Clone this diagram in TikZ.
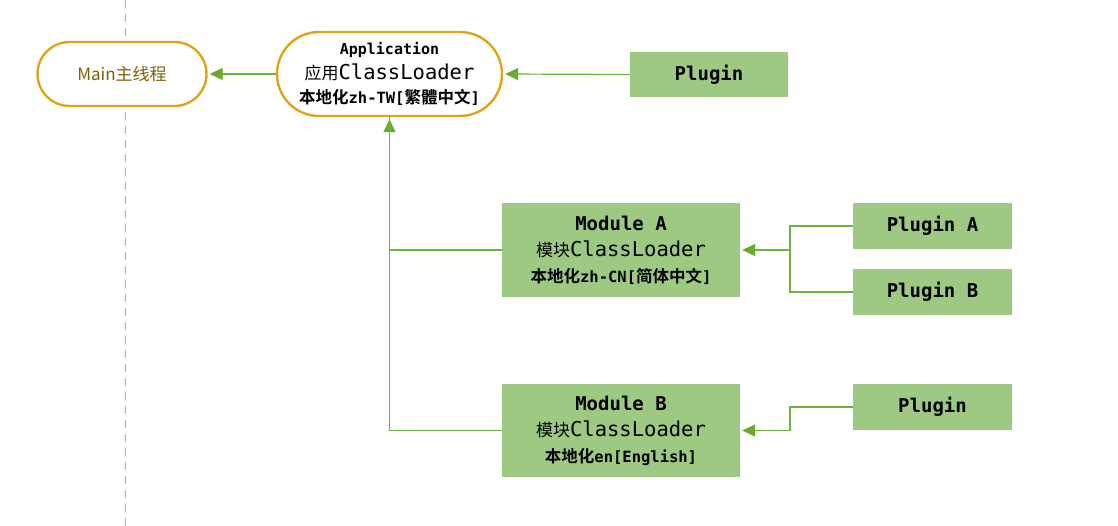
\documentclass[tikz,border=0pt]{standalone}
\usepackage{fontspec}
\setmainfont{DejaVu Sans Mono}
\setmonofont{DejaVu Sans Mono}
\newfontfamily\cjk[BoldFont={Noto Sans CJK SC Bold}]{Noto Sans CJK SC}
\usetikzlibrary{arrows.meta}
\definecolor{gfill}{HTML}{9DC983}
\definecolor{gline}{HTML}{70B040}
\definecolor{garrow}{HTML}{6AAB2E}
\definecolor{obord}{HTML}{E0A418}
\definecolor{mtext}{HTML}{7F6000}
\tikzset{
  stadium/.style={draw=obord, line width=2.4pt, fill=white, inner sep=0pt, align=center},
  gbox/.style={fill=gfill, draw=none, inner sep=0pt, align=center},
  conn/.style={draw=gline, line width=1.2pt, -{Triangle[length=13pt,width=12pt,color=garrow]}, shorten >=2pt},
  plain/.style={draw=gline, line width=1.2pt},
  ttlfont/.style={font=\fontsize{19pt}{22pt}\selectfont\bfseries},
  appfont/.style={font=\fontsize{16pt}{24.5pt}\selectfont},
  modfont/.style={font=\fontsize{16pt}{26pt}\selectfont}
}
\newcommand{\Ttl}[1]{{\bfseries\fontsize{19pt}{22pt}\selectfont #1}}
\newcommand{\Lii}[1]{{\cjk\fontsize{17pt}{20pt}\selectfont #1}{\fontsize{20.5pt}{24pt}\selectfont ClassLoader}}
\newcommand{\Ciii}[1]{{\cjk\bfseries\fontsize{16.5pt}{20pt}\selectfont #1}}
\newcommand{\Liii}[1]{{\bfseries\fontsize{15.5pt}{20pt}\selectfont #1}}
\begin{document}
\begin{tikzpicture}[x=1pt,y=-1pt]
\useasboundingbox (0,0) rectangle (1118,526);
\draw[gray!60, line width=1pt, dash pattern=on 8pt off 6pt] (125,0) -- (125,526);
\node[stadium, rounded corners=32pt, minimum width=169pt, minimum height=64pt] (main) at (122,74)
  {\cjk\fontsize{17pt}{20pt}\selectfont\color{mtext}Main主线程};
\node[stadium, appfont, rounded corners=42pt, minimum width=225pt, minimum height=84pt] (app) at (389.5,74)
  {{\bfseries\fontsize{15pt}{18pt}\selectfont Application}\\
   \Lii{应用}\\
   \Ciii{本地化}\Liii{zh-TW[}\Ciii{繁體中文}\Liii{]}};
\node[gbox, ttlfont, minimum width=158pt, minimum height=45pt] (p0) at (709,74.5) {Plugin};
\node[gbox, modfont, minimum width=238pt, minimum height=94pt] (ma) at (621,250)
  {\Ttl{Module A}\\
   \Lii{模块}\\
   \Ciii{本地化}\Liii{zh-CN[}\Ciii{简体中文}\Liii{]}};
\node[gbox, ttlfont, minimum width=159pt, minimum height=46pt] (pa) at (932.5,226) {Plugin A};
\node[gbox, ttlfont, minimum width=159pt, minimum height=46pt] (pb) at (932.5,292) {Plugin B};
\node[gbox, modfont, minimum width=238pt, minimum height=93pt] (mb) at (621,430.5)
  {\Ttl{Module B}\\
   \Lii{模块}\\
   \Ciii{本地化}\Liii{en[English]}};
\node[gbox, ttlfont, minimum width=159pt, minimum height=46pt] (pc) at (932.5,407) {Plugin};
\coordinate (ja) at (790,250);
\coordinate (jb) at (790,430.5);
\draw[conn] (app.west) -- (main.east);
\draw[conn] (p0.west) -- (app.east);
\draw[conn] (ma.west) -| (app.south);
\draw[plain] (mb.west) -| (app.south);
\draw[plain] (pa.west) -| (ja);
\draw[plain] (pb.west) -| (ja);
\draw[conn] (ja) -- (ma.east);
\draw[plain] (pc.west) -| (jb);
\draw[conn] (jb) -- (mb.east);
\end{tikzpicture}
\end{document}
